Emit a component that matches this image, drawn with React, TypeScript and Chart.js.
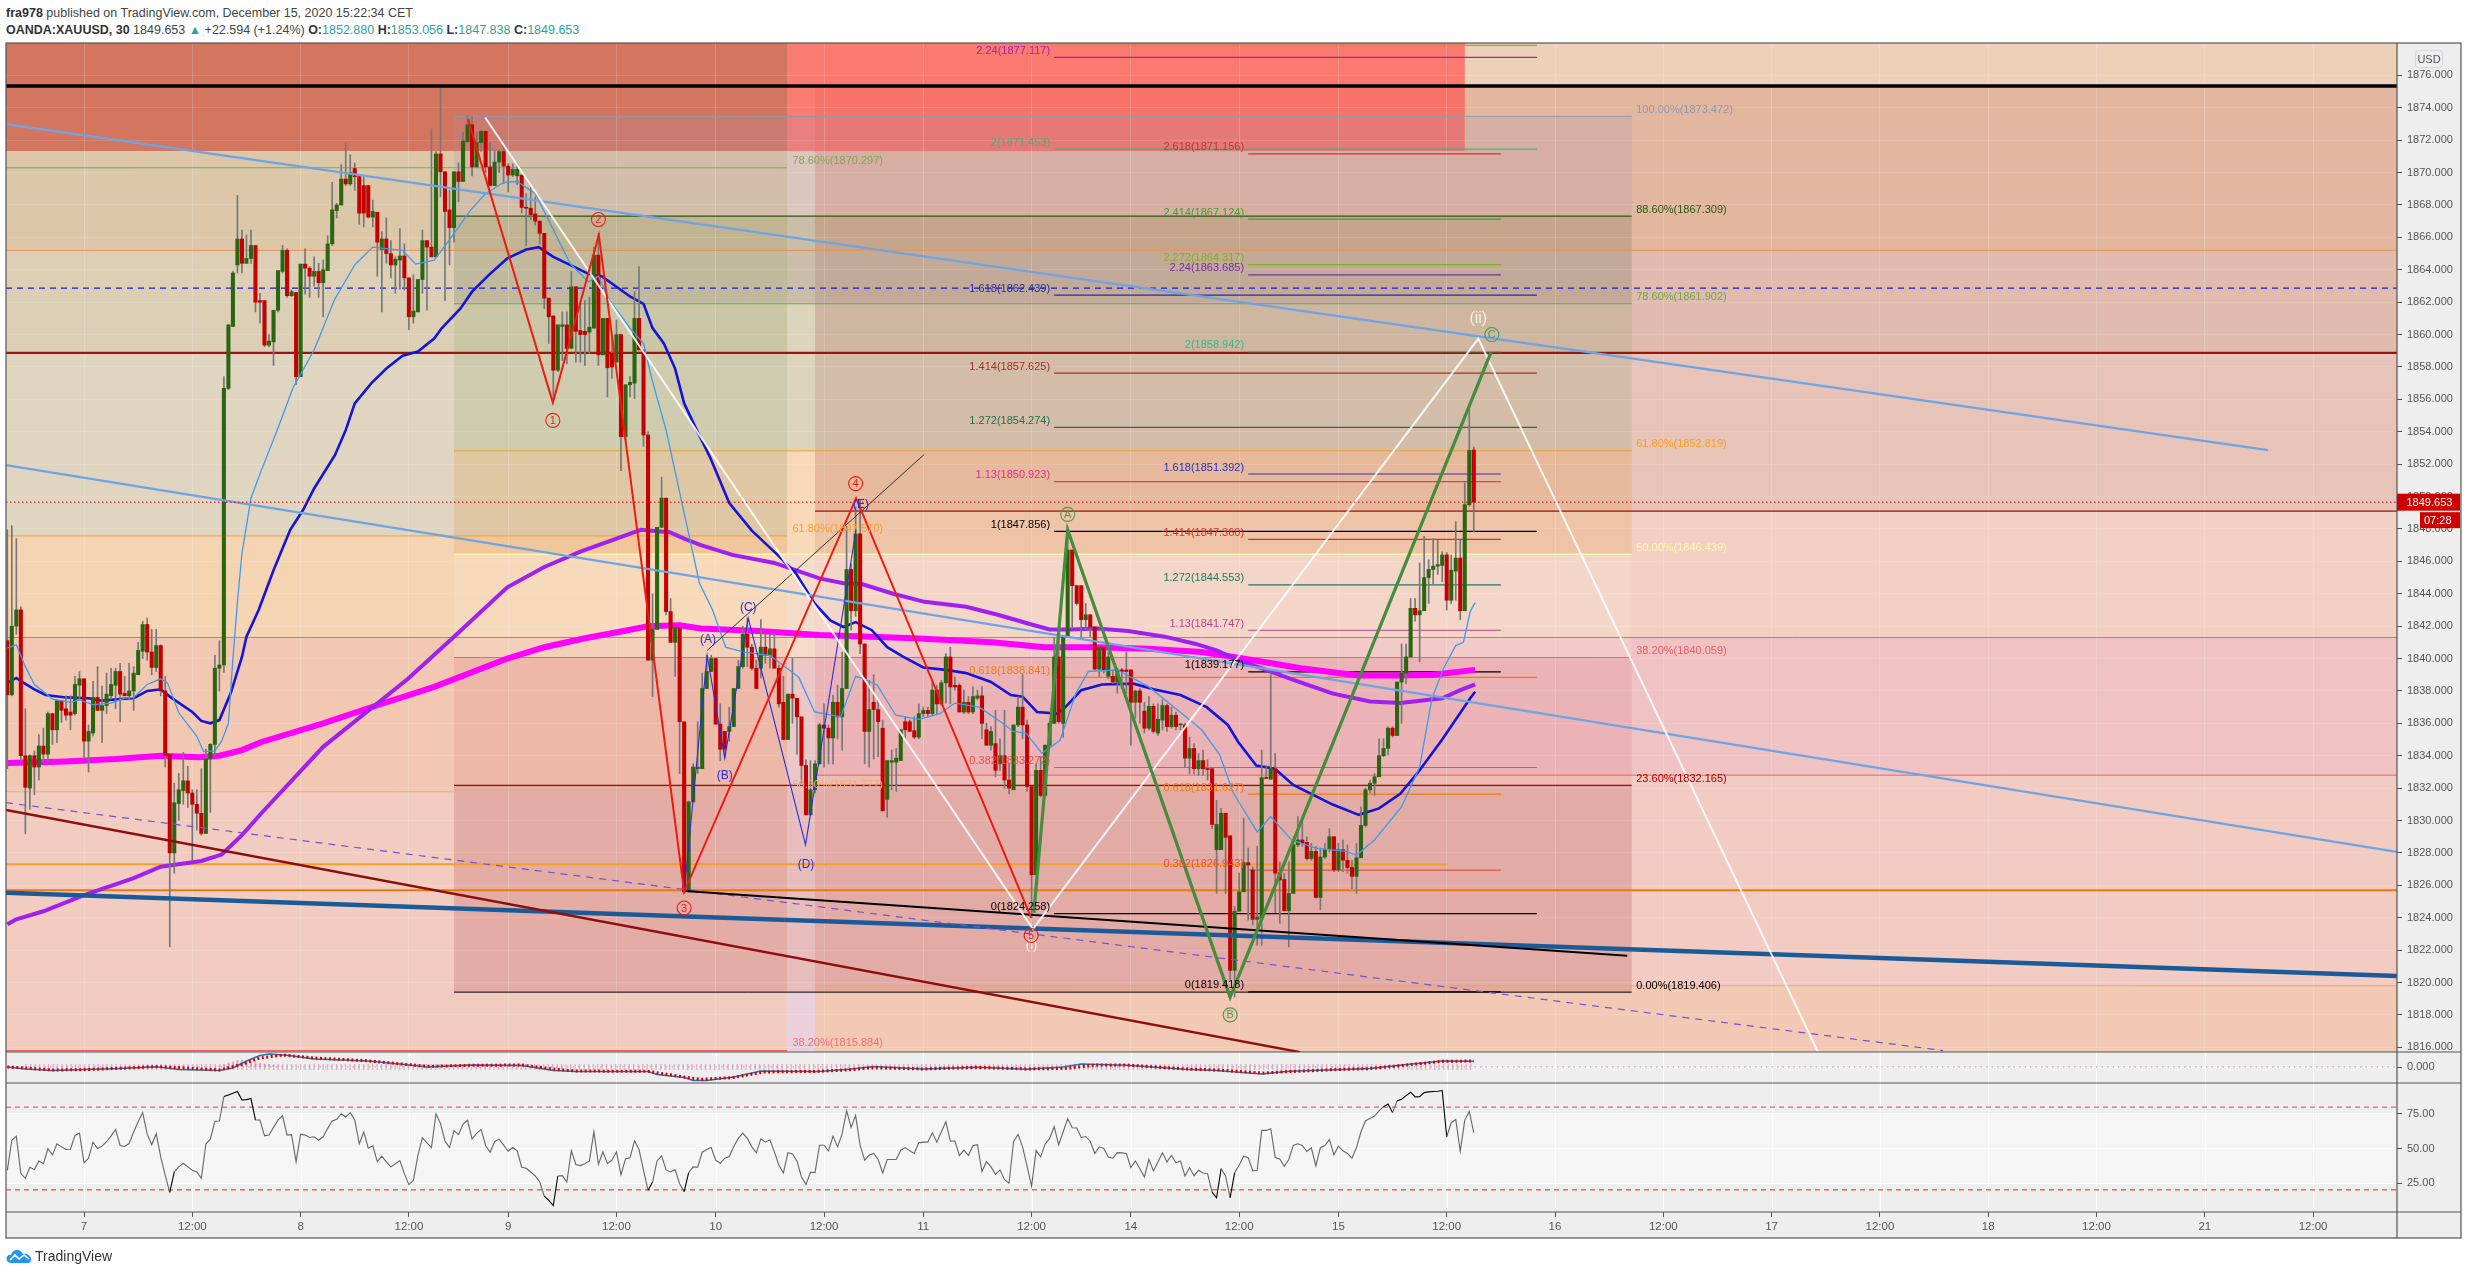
import { useEffect, useRef } from "react";
import { Chart, registerables } from "chart.js";
Chart.register(...registerables);

type Row = [number, number, number, number];
type Pt = [number, number];

// ---- candles [open, high, low, close], one small list per session
const sessionDec04: Row[] = [
[1841.1,1847.95,1833.2,1837.76],[1837.76,1848.2,1837.7,1842],[1842,1847.4,1841.5,1843],[1843,1843.2,1833.7,1834],[1834,1836.9,1829.2,1832.05],[1832,1834.05,1830.7,1834],[1834,1834.3,1831.6,1833.3],[1833.3,1835.3,1832.5,1834.6],[1834.6,1835.7,1833.6,1834.1],[1834.1,1836.7,1833.6,1836.6],[1836.6,1836.6,1834.7,1835.6],[1835.6,1837.45,1834.8,1837.4],[1837.4,1837.4,1836.05,1836.8],[1836.9,1837.7,1836.2,1836.5],[1836.7,1837.7,1835.6,1836.5],[1836.6,1838.9,1836.5,1838.4],[1838.35,1839.2,1837.5,1838.75],
];
const sessionDec07: Row[] = [
[1838.75,1838.75,1833.8,1834.9],[1834.9,1835.9,1833,1835.5],[1835.4,1838.6,1835.2,1837.6],[1837.6,1839.5,1836.8,1836.8],[1836.8,1838.3,1834.8,1837.1],[1837.1,1839.1,1836.6,1837.8],[1837.7,1839.4,1837.5,1838.4],[1838.35,1839.4,1836.9,1839.2],[1839.2,1839.7,1836.1,1837.8],[1837.85,1838.9,1837.7,1837.7],[1837.7,1839.7,1837.45,1838],[1838,1839.5,1836.8,1839.1],[1839,1841,1839,1840.5],[1840.45,1842.3,1840,1842.1],[1842.1,1842.5,1839.9,1840.4],[1840.4,1841.8,1839,1839.45],[1839.45,1841.8,1839.2,1840.8],[1840.8,1840.85,1837.7,1838],[1838,1838.9,1833.3,1834],[1834.06,1834.06,1822.2,1828],[1828,1832.3,1826.75,1831.1],[1831.05,1832.9,1830,1831.9],[1831.85,1834.2,1831,1832.45],[1832.45,1833.35,1830.8,1831.7],[1831.7,1831.9,1827.55,1831],[1831,1831.9,1829.4,1830.45],[1830.45,1833.2,1829.1,1829.2],[1829.2,1834.4,1829.2,1833.8],[1833.8,1834.75,1830.5,1834.7],[1834.7,1840.2,1834.05,1839.4],[1839.4,1841.1,1838,1839.6],[1839.6,1857.4,1839.15,1856.68],[1856.68,1860.6,1856.6,1860.6],[1860.5,1863.9,1860.5,1863.8],[1864.3,1868.6,1863.8,1865.9],[1865.9,1866.45,1863.8,1864.4],[1864.4,1866.15,1864.4,1864.7],[1864.7,1866.45,1864.4,1865.5],[1865.5,1865.5,1861.4,1862],[1862.1,1862.55,1860.7,1862],[1862.1,1862.1,1859.25,1859.35],[1859.35,1860,1859.25,1859.6],[1859.55,1861.5,1858.1,1861.5],[1861.5,1863.95,1861.4,1863.95],[1863.9,1865.5,1863.8,1865.2],[1865.2,1865.3,1862.3,1862.4],[1862.4,1862.75,1862.35,1862.65],[1862.6,1862.6,1856.9,1857.4],
];
const sessionDec08: Row[] = [
[1857.4,1864.35,1857.4,1864.35],[1864.35,1865.3,1862.5,1864.1],[1864.1,1864.2,1862.3,1863.6],[1863.6,1864.8,1863,1863.9],[1863.9,1864.4,1862.3,1863.2],[1863.2,1864.6,1861.1,1864],[1863.95,1866.1,1863.95,1865.6],[1865.6,1869.4,1865.5,1867.7],[1867.65,1868.1,1867.2,1868],[1868,1870.5,1868,1869.6],[1869.6,1871.8,1869.2,1869.3],[1869.3,1871.1,1869.2,1870],[1870.25,1870.6,1868.9,1869.75],[1869.75,1869.85,1866.8,1867.5],[1869.2,1869.75,1866.65,1867.5],[1869.2,1869.2,1867.2,1867.25],[1867.25,1868.3,1866.65,1867.6],[1867.55,1867.55,1863.6,1865.7],[1865.25,1866.35,1861.4,1865.9],[1865.9,1867.2,1864.4,1865],[1865,1865.8,1863.5,1864.3],[1864.3,1864.8,1862.55,1864.65],[1864.6,1866.55,1862.8,1864.85],[1864.85,1865.6,1862.75,1863.5],[1863.5,1863.5,1860.3,1861.1],[1861.1,1863.7,1860.7,1861.45],[1861.4,1863.4,1861.4,1863.4],[1863.4,1866.45,1862.55,1865.8],[1865.8,1865.8,1861.5,1865.4],[1865.4,1872.7,1864.8,1864.8],[1864.8,1871.3,1864.8,1871.15],[1871.15,1875.35,1868.5,1870.05],[1870.05,1870.05,1862.1,1867.6],[1867.7,1868.9,1864.3,1866.6],[1866.6,1870.05,1865.7,1870.05],[1870.05,1870.6,1868.2,1869.45],[1869.45,1872.5,1869.45,1871.95],[1871.9,1873.55,1871.9,1872.95],[1872.95,1873.45,1869.8,1870.35],[1870.35,1872.5,1870.35,1871.85],[1871.85,1872.6,1871.3,1872.55],[1872.55,1872.55,1870,1870.35],[1870.35,1871.8,1869.2,1869.2],[1869.2,1871.4,1869.2,1870.65],[1870.65,1871.4,1870,1871.3],[1871.3,1871.7,1869.3,1870.4],
];
const sessionDec09: Row[] = [
[1870.4,1870.55,1868.8,1869.85],[1869.85,1870.55,1869.75,1870.2],[1869.8,1870.55,1869.25,1870.2],[1869.85,1869.85,1867.5,1867.85],[1867.85,1868.7,1865.5,1867.8],[1867.8,1869.1,1867.1,1867.4],[1867.45,1868.5,1866.75,1867],[1867,1867,1865.6,1866.25],[1866.25,1866.25,1861.6,1862.25],[1862.25,1862.25,1859.45,1861.1],[1861.15,1861.15,1856.05,1857.8],[1857.8,1860.6,1857.7,1860.6],[1860.5,1861.4,1858.4,1860.6],[1860.6,1861.4,1858.2,1859.15],[1859.15,1863.9,1859.15,1862.95],[1862.95,1862.95,1858.3,1860.2],[1860.25,1861.9,1858.3,1860],[1860.2,1862.1,1858.1,1860],[1860.15,1862.3,1858.85,1860.45],[1860.4,1865.4,1860.4,1864.9],[1864.9,1866.25,1858.1,1858.75],[1858.75,1861,1858.75,1861],[1861,1861,1856.15,1857.95],[1858.85,1860,1857.3,1858],[1858.3,1860.9,1858.3,1860],[1860,1860,1851.6,1853.7],[1853.7,1856.9,1853.5,1856.9],[1856.9,1857.4,1856.15,1857.05],[1857,1862.65,1856.05,1861],[1861,1864.2,1859.05,1859.05],[1859.05,1859.05,1853.1,1853.8],[1853.8,1854,1839.9,1839.9],[1839.9,1844,1837.65,1841.8],[1841.8,1848.1,1841.8,1848.1],[1848.1,1851.2,1848.1,1849.9],[1849.9,1849.9,1842.7,1842.9],
];
const sessionDec09b: Row[] = [
[1842.9,1843.7,1841,1841],[1841,1841.9,1838.9,1841.9],[1841.9,1841.9,1832.9,1836.1],[1836.1,1836.1,1825.5,1825.6],[1825.6,1831.2,1825.6,1831.15],[1831.15,1833.5,1831.15,1833.3],[1833.2,1836.1,1832.9,1833.3],[1833.2,1839.1,1833.2,1838.15],[1838.15,1840.2,1838.15,1839.2],[1839.2,1840.2,1839.2,1840],
];
const sessionDec10: Row[] = [
[1840,1840,1835.95,1835.95],[1835.95,1837.2,1833.7,1834.4],[1835.5,1835.5,1833.9,1834.4],[1835.5,1837,1834.9,1835.8],[1835.8,1838.15,1835.8,1838.15],[1838.15,1839.9,1838.15,1839.5],[1839.5,1842,1839.4,1841.5],[1841.5,1842.5,1839.5,1840.7],[1840.7,1840.9,1839.3,1839.4],[1839.4,1839.9,1838.15,1838.15],[1839.4,1842.4,1838.8,1840.7],[1840.7,1841.5,1839.7,1840.2],[1840.2,1841.5,1839.4,1840.6],[1840.6,1841.55,1839.4,1839.4],[1839.4,1839.6,1837,1837.2],[1837.3,1838.9,1835,1835],[1835,1837.8,1835,1837.8],[1837.8,1840,1836,1837.55],[1837.55,1837.55,1834.1,1836.4],[1836.4,1836.4,1832.3,1833.4],[1833.4,1833.75,1830.35,1830.35],[1830.35,1833.7,1830.35,1831.9],[1831.9,1833.7,1831.7,1833.5],[1833.5,1836,1833.5,1835.9],[1835.9,1837.2,1833.3,1835.7],[1835.7,1835.9,1833.5,1835.1],[1835.1,1837.75,1833.5,1837.3],[1837.3,1838.35,1835.05,1836.4],[1836.4,1840.4,1834.35,1838.15],[1838.15,1848.15,1838.15,1845.5],[1845.5,1845.85,1841.75,1842.95],[1842.95,1849.35,1842.6,1847.7],[1847.7,1849.8,1840.3,1840.9],[1840.9,1840.9,1833.5,1835.5],[1835.5,1838.65,1833.3,1836.85],[1837.3,1839,1833.8,1836.85],[1836.85,1837.45,1833.95,1836.1],[1835.7,1836.2,1830.6,1830.6],[1831.3,1833.7,1830.2,1833.7],[1833.6,1834.35,1831.9,1833.7],[1833.6,1834.45,1831.8,1833.85],[1833.7,1835.6,1833.7,1835.6],[1836.1,1836.4,1835.05,1835.6],[1836.1,1836.2,1835.5,1835.5],[1835.55,1836.4,1835.05,1835.15],[1835.15,1837.2,1835.05,1836.6],
];
const sessionDec11: Row[] = [
[1836.6,1837,1836.4,1836.8],[1836.8,1837,1836.4,1836.6],[1836.6,1838.55,1836.5,1838.05],[1838.05,1838.35,1836.6,1837.2],[1837.2,1838.65,1837.1,1838.5],[1838.5,1840.3,1837.25,1840.1],[1840.1,1840.7,1837.2,1838.25],[1838.35,1838.85,1838.05,1838.25],[1838.35,1838.45,1836.7,1836.7],[1836.7,1838.05,1836.6,1837.3],[1837.3,1837.65,1836.6,1836.7],[1836.7,1838.25,1836.6,1837.65],[1837.55,1838.05,1837.45,1837.7],[1837.7,1838.25,1835.05,1836],[1835.6,1836,1834.65,1834.65],[1834.65,1835.8,1834.35,1835.5],[1834.75,1836.8,1832.7,1833.1],[1833.5,1835.05,1833.1,1834],[1834,1836.8,1832,1832.5],[1832.5,1833.5,1831.65,1832],[1831.9,1835.9,1831.9,1835.9],[1835.9,1837.65,1835.8,1837],[1837,1839,1835.05,1835.9],[1835.9,1836.2,1831.8,1832.1],[1832.1,1832.1,1824,1826.65],[1826.65,1833.5,1826.65,1833.1],[1833.1,1833.95,1831.45,1831.55],[1831.55,1834.65,1831.45,1834.65],[1834.65,1836.1,1834.55,1836],[1836,1841.3,1836,1840.1],[1840.1,1841.3,1836,1836.1],[1836,1841.35,1835.15,1841.35],[1841.35,1847.9,1841.35,1846.7],[1846.7,1846.7,1841.85,1844.5],[1844.5,1844.5,1843.3,1843.4],[1844.5,1844.5,1841.25,1842.4],[1842.4,1843.4,1841.75,1842.7],[1842.7,1842.7,1841.35,1841.95],[1841.95,1841.95,1839.3,1839.35],[1839.35,1840.7,1838.9,1840.7],[1840.7,1840.7,1839.1,1839.3],[1838.9,1840.4,1838.75,1840.1],[1838.9,1839.3,1838.45,1838.55],[1838.55,1839.4,1837.85,1839.3],[1839.3,1839.4,1838.45,1839.2],[1839.3,1840.4,1837.85,1839.2],
];
const sessionDec14: Row[] = [
[1839.3,1839.3,1834.65,1837.3],[1837.3,1838.05,1836.3,1838],[1838,1838.15,1836,1837.3],[1836.75,1837.3,1835.4,1835.7],[1835.7,1837.65,1835.6,1837.05],[1837.05,1837.2,1835.4,1835.5],[1835.4,1837.2,1835.25,1836.25],[1836.2,1837.45,1835.6,1837.1],[1837.1,1837.2,1835.5,1835.8],[1835.8,1837,1835.7,1836.5],[1836.5,1836.7,1835.6,1835.8],[1835.9,1836,1835.6,1835.95],[1835.9,1836,1833.3,1833.85],[1833.85,1835.15,1832.9,1834.45],[1834.45,1834.75,1832.9,1833.2],[1833.2,1834.15,1832.8,1833.7],[1833.7,1834.35,1832.8,1833.2],[1833.2,1833.75,1832.5,1833.15],[1833.2,1833.2,1829.5,1829.76],[1828.2,1831.25,1825.5,1829.76],[1828.2,1830.75,1828.2,1830.45],[1830.45,1830.45,1825.5,1828.96],[1829.05,1829.05,1820.15,1820.75],[1820.75,1824.7,1819.1,1824.4],[1824.4,1826.75,1824.4,1825.6],[1825.6,1830.15,1825.6,1827.4],[1827.4,1828.3,1823.85,1827.25],[1826.95,1827.15,1823.55,1823.9],[1823.9,1828.4,1822.3,1824.05],[1823.95,1834.35,1822.3,1832.65],[1832.65,1833.4,1832.6,1832.6],[1832.55,1839.1,1832.55,1833.2],[1833.2,1834.15,1824.3,1826.75],[1826.78,1827.45,1823.65,1826.33],[1826.36,1826.75,1824.43,1824.43],[1824.43,1827.45,1822.2,1825.5],
];
const sessionDec14b: Row[] = [
[1825.5,1828.8,1825.5,1828.5],[1828.5,1830.25,1828.4,1828.8],[1828.8,1830,1828.4,1828.6],[1828.65,1829,1827.55,1827.65],[1827.65,1828.6,1827.55,1828.1],[1828.1,1828.4,1825.2,1825.25],[1825.25,1828.3,1824.5,1827.75],[1827.75,1828.6,1827.65,1828.2],[1828.2,1829.5,1828.05,1829],[1829,1829,1826.85,1826.95],
];
const sessionDec15: Row[] = [
[1826.95,1828.6,1826.85,1828.2],[1828.2,1828.8,1826.85,1827.55],[1827.55,1828.5,1826.75,1827.1],[1827.1,1827.55,1825.8,1826.55],[1826.55,1828.6,1825.5,1827.7],[1827.7,1830.85,1827.7,1829.7],[1829.7,1832,1829.6,1831.9],[1831.9,1832.5,1831.7,1832.3],[1832.3,1832.9,1831.55,1832.7],[1832.7,1835.05,1832.7,1834],[1834,1835.05,1833.95,1834.45],[1834.45,1835.8,1834.05,1835.7],[1835.7,1835.8,1835.15,1835.25],[1835.25,1838.55,1835.25,1838.55],[1838.55,1840.9,1836,1839.1],[1839.1,1840.9,1838.45,1840.1],[1840.1,1843.7,1840.1,1843.1],[1843.1,1843.7,1842.3,1842.7],[1842.7,1845.9,1839.8,1842.95],[1842.95,1847.55,1842.95,1845],[1845,1846.1,1843.4,1845.5],[1845.5,1847.4,1844.6,1845.7],[1845.7,1847.3,1845.2,1845.8],[1845.75,1846.6,1844.75,1846.4],[1846.4,1846.55,1843,1843.6],[1843.6,1846.4,1843.4,1845.45],[1845.4,1848.45,1843.6,1846.2],[1846.2,1847.3,1842.4,1842.95],[1842.95,1850.85,1842.95,1849.5],[1849.5,1855.4,1849.4,1852.85],[1852.88,1853.056,1847.838,1849.653],
];
const candleRows = [...sessionDec04, ...sessionDec07, ...sessionDec08, ...sessionDec09, ...sessionDec09b, ...sessionDec10, ...sessionDec11, ...sessionDec14, ...sessionDec14b, ...sessionDec15];

// ---- moving averages [bar, price]
const emaFast: Pt[] = [[0,1840.65],[2,1840.85],[4,1839.5],[6,1838.4],[8.5,1837.85],[10,1837.5],[14,1837.3],[16,1837.45],[19,1837.15],[23,1837.25],[26,1837.55],[28,1837.6],[31,1838.4],[34,1838.75],[35.5,1838.5],[38,1836.65],[42,1835.2],[43.5,1834.25],[46,1834.3],[47.5,1834.9],[49,1836],[50,1840],[51,1843.5],[52,1846.5],[54,1849.9],[56,1851.4],[59.8,1854.1],[63.3,1856.7],[68,1859.05],[72.5,1862.15],[77,1864.3],[81,1865.4],[87.6,1865.2],[90.5,1864.35],[94.6,1864.6],[98,1865.85],[102.7,1867.7],[106,1868.7],[110,1869.4],[113,1869.45],[117,1868.7],[120.7,1866.65],[124.7,1864.4],[128.8,1863.25],[131,1863.6],[133.4,1862.15],[138,1860.4],[141,1859.45],[142.7,1857.4],[146,1854.1],[150.5,1848.35],[153.4,1844.65],[156.3,1843],[159.2,1840.7],[163.2,1840.4],[169,1840.2],[175.4,1838.85],[178.9,1836.7],[184.7,1836.4],[188,1838.9],[189.9,1838.75],[192.8,1838.35],[196.9,1836.5],[202,1836.25],[206.7,1836.6],[210,1837.25],[215.4,1837],[220.6,1836],[222.9,1835.5],[225.8,1835.4],[229.3,1834.15],[233.3,1834.95],[236.8,1837.85],[239.6,1839.2],[246,1839.3],[253,1838.25],[259,1836.9],[264.7,1835.6],[268.7,1834.05],[271.7,1831.7],[277,1829.3],[280,1830.25],[284.6,1828.8],[290,1828.3],[296.7,1828.1],[299,1827.85],[303,1828.8],[309,1830.85],[313,1833.3],[315.7,1837.5],[318.3,1839.4],[321,1840.8],[322.7,1841],[324.2,1842.9],[325.3,1843.45]];
const emaMid: Pt[] = [[0,1838.5],[2,1838.8],[3,1838.6],[6,1838.1],[8.5,1837.75],[13,1837.6],[18,1837.55],[21,1837.4],[25,1837.5],[28,1837.55],[31,1838],[34,1838.1],[36,1837.65],[41,1836.7],[43,1836.15],[45,1836],[47,1836.2],[49.5,1837.85],[52,1840.1],[53,1841.35],[55.7,1843],[59,1845.45],[62.7,1847.95],[65.6,1849.2],[68,1850.5],[72.6,1852.55],[75,1854.1],[77,1855.75],[80.7,1857],[84,1857.9],[87.6,1858.7],[91,1858.95],[94.6,1859.75],[96.3,1860.4],[100.4,1861.6],[103,1862.65],[106.8,1863.7],[110.8,1864.7],[115,1865.25],[117.8,1865.4],[121,1864.8],[124.7,1864.3],[128.8,1863.75],[131.7,1863.6],[135,1862.95],[138,1862.35],[141,1861.9],[143,1860.4],[145.5,1859.45],[148,1857.9],[150,1855.75],[152.8,1854.1],[155.7,1852.45],[160,1849.6],[165,1847.9],[170.7,1846.4],[174.8,1845.25],[178.9,1843.4],[182.4,1842.35],[185.3,1841.95],[188,1842.25],[191.6,1841.75],[195,1840.7],[198.6,1840.1],[203,1839.45],[208,1839.3],[212.5,1839.1],[218,1838.55],[222.4,1837.75],[225,1837.65],[228.2,1836.7],[232.8,1836.6],[234.5,1837],[238,1838.05],[242.6,1838.4],[249.6,1838.45],[254,1838.1],[260,1837.75],[265.8,1837],[270.5,1835.9],[272.8,1834.85],[276.8,1833.4],[280.9,1833.2],[285,1832.2],[293.6,1831],[299.5,1830.35],[304,1830.75],[308.7,1831.65],[313,1833.1],[318,1835],[324.2,1837.55],[325.3,1837.95]];
const emaSlow: Pt[] = [[0,1823.6],[2,1823.9],[8,1824.4],[17,1825.4],[28,1826.45],[34,1827.15],[43,1827.5],[47.5,1827.9],[52,1829.1],[56.3,1830.45],[70,1834.55],[88.8,1838.75],[99,1841.35],[110.8,1844.4],[119,1845.65],[127,1846.6],[135,1847.4],[140.4,1847.95],[146.8,1847.8],[150,1847.4],[153.7,1847],[160.7,1846.4],[170,1845.9],[180,1844.95],[185.3,1844.65],[189.4,1844.6],[196.3,1844],[203.3,1843.5],[212.5,1843.2],[219.5,1842.7],[226.4,1842.15],[231,1841.8],[235.7,1841.8],[241.5,1841.85],[248.4,1841.7],[256.5,1841.35],[263.4,1840.9],[268,1840.5],[272.7,1839.9],[277.4,1839.45],[284.4,1838.75],[293.6,1837.85],[302,1837.35],[308.7,1837.25],[318,1837.55],[322,1838.05],[325.3,1838.4]];
const emaLong: Pt[] = [[0,1833.55],[13,1833.65],[24,1833.8],[34,1834],[42.5,1833.9],[47,1834],[52,1834.35],[56.3,1834.85],[70,1836],[81.8,1837.1],[94.6,1838.25],[110.8,1840],[119,1840.7],[128,1841.25],[137.5,1841.75],[142,1842],[149,1842.05],[153.7,1841.85],[166.5,1841.7],[180,1841.45],[201,1841.25],[218.3,1841],[229.9,1840.7],[241.5,1840.7],[253,1840.6],[264.7,1840.4],[273.9,1840],[286.7,1839.4],[299.5,1838.95],[308.7,1838.95],[316,1839],[325.3,1839.3]];

// ---- RSI, one value per bar
const rsiValues = [34.2,56,59,31.8,28.4,36.4,34.7,41,39,49.8,45.4,53.4,51.2,49.3,49.5,59.5,61.2,39.6,43,54.6,50,51.7,54.9,59.2,63.8,52.2,51.5,53.6,62,69.4,76,60.4,52.7,60.7,43.9,30.6,18.2,33,36.7,39.3,36.7,34.2,33,28.4,53.2,56.8,69.7,69.9,87.6,88.8,90,91.3,85.2,85.4,86.2,70.6,70.6,59.2,59.7,65.3,70.6,73.8,59.7,60,40.3,60.4,59.7,58,58.5,56,58.5,64.6,69.9,71.1,75.2,72.8,76,70.6,53.4,62,50.2,52,40.5,44.4,40.3,36.7,39,41.3,31.8,23.8,26.9,45.1,57.8,54,50.7,75,68.2,55.3,50.7,62.9,60,67.7,70.4,56.8,60.9,63.8,52.2,47.3,54.9,56.8,52.4,48,50.7,48.3,36.4,35.7,33,30.1,25.7,15.5,12.4,8.7,30.1,30.3,25.7,48.5,38.4,37.6,39,41,62.1,38.6,47.6,39,41.5,47.6,31,42.5,43.2,55.6,49.3,34.2,19.7,25.7,41,44.7,34.5,33,34.7,24.5,18.7,32.5,36.7,36.4,47.3,49.3,50.7,41.5,39.3,43,44.2,51.5,57.3,61.2,57.3,51.2,46.8,57,54.6,56.3,47.6,37.9,32.3,47,46,41,29.4,24,32.8,32.5,52.4,52.4,48.3,59,51.2,60.4,77.4,65.3,74,52.2,41.5,45.1,46.4,42,32.3,42,42,42,48.8,50.7,48.3,46.4,54.1,54.6,54.6,61.4,54.6,62.1,69.4,55.3,55.6,44.9,48.8,44.9,52,52.7,33.3,40.5,36.7,31.3,34.5,27.4,24.8,54.9,60.2,51.2,37.1,22.8,48.5,43.9,53.2,57.3,65.8,52.7,62.1,71.6,65,64.8,58,58.7,55.3,46.4,51.2,50,43.9,43,47,46.8,46.4,36.2,41,35.4,29.4,42.2,33.7,40.3,47,40.3,44.9,39.6,41,30,36.2,30.3,34.2,32.3,31.8,18.4,14.3,35.4,29.9,14.3,32.5,37.9,44.4,43.4,34,34.2,63.1,63.1,64.3,43.4,42.5,37.1,42,52.2,53.4,52.2,47.8,50.5,37.4,50.7,52.2,56.6,45.4,51.7,48.3,46.4,43,50.7,62.1,70.1,71.8,73.5,77.2,80.3,82.3,76,84.5,85.7,88.3,90.8,87.4,87.6,90.5,91,91.3,91.5,92,58.5,68.7,71.1,48,70.6,76.9,61.4];
const rsiBands = [80, 20];

// ---- MACD pane
const macdSignal: Pt[] = [[0,0],[4,-0.2],[10,-0.6],[17,-0.53],[25,-0.27],[33,0.07],[38,-0.13],[47,-0.6],[52,0.53],[56,1.8],[61,2.4],[68,1.8],[79.5,1.27],[86.5,0.67],[93.4,0.13],[102.7,0.33],[114,0.4],[121,-0.4],[126,-0.8],[142,-0.87],[150,-2],[153.7,-2.47],[160.7,-2.13],[167.6,-1],[180,-0.87],[187,-0.53],[191.6,-0.13],[203,-0.4],[214.6,-0.07],[226,-0.4],[234.4,-0.27],[241.4,0.4],[248,0.4],[261,-0.4],[268,-0.6],[278.3,-1.2],[284,-0.93],[295.7,-0.47],[301.5,-0.33],[307.3,0.13],[317.7,1.13],[325,1.2]];
const macdLine: Pt[] = [[0,0],[4,-0.4],[10,-0.7],[17,-0.5],[25,-0.3],[33,0.05],[38,-0.5],[47,-0.7],[50,-0.2],[53,1.2],[56,2.3],[58,2.6],[62,2.35],[68,1.6],[80,1.2],[87,0.6],[93,0],[103,0.4],[114,0.3],[121,-0.7],[126,-0.9],[142,-0.9],[144,-1.5],[150,-2.1],[152,-2.7],[155,-2.7],[161,-2],[167,-0.8],[180,-0.9],[187,-0.4],[192,0.1],[203,-0.4],[215,-0.05],[226,-0.45],[234,0],[238,0.6],[248,0.35],[261,-0.45],[268,-0.7],[278,-1.4],[284,-0.85],[296,-0.5],[302,-0.3],[308,0.3],[318,1.2],[325,1.15]];
const macdHumpBars = [47, 48, 49, 50, 51, 52, 53, 54, 55, 56, 57, 58, 59, 60];
const macdHumpValues = [0.2, 0.5, 0.8, 1, 1.3, 1.4, 1.3, 1.1, 0.9, 0.8, 0.6, 0.5, 0.3, 0.2];
const macdHistStart = 4;
const macdHistEnd = 325;

// ---- axes
const priceTicks = [1816,1818,1820,1822,1824,1826,1828,1830,1832,1834,1836,1838,1840,1842,1844,1846,1848,1850,1852,1854,1856,1858,1860,1862,1864,1866,1868,1870,1872,1874,1876];
const timeTickBars = [17,41,65,89,111,135,157,181,203,227,249,273,295,319,343,367,391,415,439,463,487,511];
const timeTickLabels = ["7","12:00","8","12:00","9","12:00","10","12:00","11","12:00","14","12:00","15","12:00","16","12:00","17","12:00","18","12:00","21","12:00"];
const rsiTicks = [25, 50, 75];
const macdTicks = [0];
const xMin = -0.29, xMax = 529.6;
const yMin = 1815.71, yMax = 1878;

// ---- coloured zones [barFrom, barTo, priceTop, priceBottom, colour]
type Zone = [number, number, number, number, string];
const rightZones: Zone[] = [
[179,xMax,yMax,1875.35,"#EDD0B8"],[179,xMax,1875.35,1865.2,"#E3B6A0"],[179,xMax,1865.2,1858.87,"#E0BBAE"],[179,xMax,1858.87,1849.1,"#E8C3B8"],[179,xMax,1849.1,1841.3,"#F2D0C3"],[179,xMax,1841.3,1832.8,"#EFC2C4"],[179,xMax,1832.8,1819.8,"#F2CBC2"],[179,xMax,1819.8,yMin,"#F2C9B5"],
];
const gapZones: Zone[] = [
[172.8,179,yMax,1861.902,"#E9D5C4"],[172.8,179,1861.902,1852.819,"#F2E1D1"],[172.8,179,1852.819,1846.439,"#FDEADA"],[172.8,179,1846.439,1840.059,"#F2D8C3"],[172.8,179,1840.059,1832.165,"#EEDCDA"],[172.8,179,1832.165,1819.406,"#F7E2E0"],[172.8,179,1819.406,yMin,"#EAD0DC"],
];
const leftZones: Zone[] = [
[xMin,172.8,yMax,1871.33,"#D47560"],[xMin,172.8,1871.33,1865.2,"#DCC8A8"],[xMin,172.8,1865.2,1858.87,"#DDCFB6"],[xMin,172.8,1858.87,1847.57,"#E0D5C0"],[xMin,172.8,1847.57,1841.3,"#F5D4B4"],[xMin,172.8,1841.3,1831.78,"#F2C8B3"],[xMin,172.8,1831.78,yMin,"#F2CCC0"],
];
const redZones: Zone[] = [[172.8,323,yMax,1871.33,"rgba(255,86,81,0.7)"]];
const fibZones: Zone[] = [
[99,360,1873.472,1867.309,"rgba(167,147,170,0.2)"],[99,360,1867.309,1861.902,"rgba(82,102,60,0.2)"],[99,360,1861.902,1852.819,"rgba(137,165,104,0.2)"],[99,360,1852.819,1846.439,"rgba(227,143,50,0.2)"],[99,360,1846.439,1840.059,"rgba(255,240,220,0.2)"],[99,360,1840.059,1832.165,"rgba(219,119,126,0.2)"],[99,360,1832.165,1819.406,"rgba(170,45,55,0.2)"],
];
const zones = [...rightZones, ...gapZones, ...leftZones, ...redZones, ...fibZones];

// ---- level lines [price, barFrom, barTo, colour, width, dash]
type Level = [number, number, number, string, number, number[]];
const fullLevels: Level[] = [
[1875.35,xMin,xMax,"#000000",3.5,[]],[1865.2,xMin,xMax,"#E89050",1,[]],[1862.87,xMin,xMax,"#1A1AE0",1.2,[6,5]],[1858.87,xMin,xMax,"#9B1410",2.2,[]],[1849.653,xMin,xMax,"#D00000",1,[1.5,2.5]],[1849.1,179,xMax,"#A01010",1.2,[]],[1841.3,xMin,xMax,"#EE6A5C",1,[]],[1832.8,179,xMax,"#E86060",1,[]],[1827.3,xMin,319,"#F5A020",2,[]],[1825.7,xMin,xMax,"#E87A10",2,[]],[1819.8,179,xMax,"#F0A060",1,[]],
];
const leftFibLevels: Level[] = [
[1870.297,xMin,172.8,"#7FA860",1,[]],[1847.57,xMin,172.8,"#F5A030",1,[]],[1831.777,xMin,172.8,"#F0B070",1,[]],[1815.8,xMin,172.8,"#E86060",1.2,[]],
];
const midFibRows: [string, number, string, number][] = [
["100.00%(1873.472)",1873.472,"#8E9AA8",1],["88.60%(1867.309)",1867.309,"#2A5A10",1.2],["78.60%(1861.902)",1861.902,"#6AA84F",1],["61.80%(1852.819)",1852.819,"#F5A020",1],["50.00%(1846.439)",1846.439,"#FFF4B0",1.5],["38.20%(1840.059)",1840.059,"#E86060",1],["23.60%(1832.165)",1832.165,"#B00000",1.3],["0.00%(1819.406)",1819.406,"#000000",1],
];
const extOneRows: [string, number, string, number][] = [
["2.24(1877.117)",1877.117,"#9C27B0",339],["2(1871.453)",1871.453,"#3CB47C",339],["1.618(1862.439)",1862.439,"#2030A0",339],["1.414(1857.625)",1857.625,"#A83020",339],["1.272(1854.274)",1854.274,"#207050",339],["1.13(1850.923)",1850.923,"#E0308C",331],["1(1847.856)",1847.856,"#000000",339],["0.618(1838.841)",1838.841,"#F57C00",339],["0.382(1833.272)",1833.272,"#EE5040",339],["0(1824.258)",1824.258,"#000000",339],
];
const extTwoRows: [string, number, string][] = [
["2.618(1871.156)",1871.156,"#D03040"],["2.414(1867.124)",1867.124,"#40A030"],["2.272(1864.317)",1864.317,"#80B020"],["2.24(1863.685)",1863.685,"#7030A0"],["2(1858.942)",1858.942,"#30C080"],["1.618(1851.392)",1851.392,"#3030B0"],["1.414(1847.360)",1847.36,"#E03020"],["1.272(1844.553)",1844.553,"#207A60"],["1.13(1841.747)",1841.747,"#C04090"],["1(1839.177)",1839.177,"#000000"],["0.618(1831.627)",1831.627,"#F57C00"],["0.382(1826.943)",1826.943,"#EE5040"],["0(1819.418)",1819.418,"#000000"],
];
const leftFibLabels: [string, number, string][] = [
["78.60%(1870.297)",1870.297,"#7FA860"],["61.80%(1847.570)",1847.57,"#F5A030"],["50.00%(1831.777)",1831.777,"#F0B070"],["38.20%(1815.884)",1815.884,"#F07070"],
];
const olivePrice = 1877.85;

// ---- trend lines and wave counts [bar, price]
const upperChannel: Pt[] = [[xMin,1872.99],[501,1852.87]];
const lowerChannel: Pt[] = [[xMin,1851.94],[xMax,1828.06]];
const mainSupport: Pt[] = [[xMin,1825.54],[xMax,1820.4]];
const darkRedTrend: Pt[] = [[xMin,1830.65],[286.5,1815.7]];
const dashedTrend: Pt[] = [[xMin,1831.1],[429,1815.8]];
const blackTrend: Pt[] = [[150.2,1825.65],[359,1821.65]];
const blackRay: Pt[] = [[155.1,1840.5],[203.2,1852.6]];
const whiteWave: Pt[] = [[105.9,1873.4],[227.3,1823.3],[326,1859.75],[401.3,1815.7]];
const redWave: Pt[] = [[102.1,1873.3],[120.9,1855.8],[131.1,1866.15],[150,1825.6],[188.1,1849.9],[226.9,1824]];
const greenWave: Pt[] = [[227.5,1824.3],[235,1847.95],[271,1819.1],[328.8,1858.9]];
const blueWave: Pt[] = [[150,1825.6],[155.1,1840.2],[159,1833.85],[164.2,1842.5],[176.9,1828.5],[188.1,1847.95]];
const circledMarks: [string, number, number, string][] = [
["1",120.9,1854.7,"#E8201A"],["2",131,1867.1,"#E8201A"],["3",150,1824.6,"#E8201A"],["4",188,1850.8,"#E8201A"],["5",226.9,1822.9,"#E8201A"],["A",235,1848.9,"#4C9A4C"],["B",271,1818,"#4C9A4C"],["C",329,1860,"#4C9A4C"],
];
const textMarks: [string, number, number, string, number][] = [
["(A)",155.3,1841.15,"#2A2AE0",12],["(B)",159,1832.75,"#2A2AE0",12],["(C)",164.2,1843.15,"#2A2AE0",12],["(D)",177,1827.3,"#2A2AE0",12],["(E)",189.2,1849.5,"#2A2AE0",12],["(ii)",326,1861,"#F5F0E8",16],["(i)",227,1822.3,"#F5F0E8",13],
];

const FONT = "'Liberation Sans'";
const toPts = (a: Pt[]) => a.map(([x, y]) => ({ x, y }));

function lineSet(points: Pt[], color: string, width: number, dash: number[] = [], yAxisID = "y", extra: any = {}) {
  return { type: "line", data: toPts(points), borderColor: color, borderWidth: width, borderDash: dash, pointRadius: 0, tension: 0, fill: false, yAxisID, ...extra };
}
const levelSet = ([p, a, b, c, w, d]: Level) => lineSet([[a, p], [b, p]], c, w, d);

const panePlugin = {
  id: "panes",
  beforeDraw(chart: any) {
    const { ctx, scales } = chart;
    const { x, y, rsi } = scales;
    ctx.save();
    ctx.fillStyle = "#EEEEEE";
    ctx.fillRect(6, 43, 2455, 1195);
    ctx.fillStyle = "#F5F5F5";
    const by = rsi.getPixelForValue(rsiTicks[2]);
    ctx.fillRect(x.left, by, x.right - x.left, rsi.getPixelForValue(rsiTicks[0]) - by);
    for (const [a, b, t, d, c] of zones) {
      const l = x.getPixelForValue(a), r = x.getPixelForValue(b);
      const top = y.getPixelForValue(t), bot = y.getPixelForValue(d);
      ctx.fillStyle = c;
      ctx.fillRect(l, top, r - l, bot - top);
    }
    ctx.restore();
  },
  beforeDatasetsDraw(chart: any) {
    const { ctx, scales } = chart;
    const { x, macd, rsi } = scales;
    ctx.save();
    ctx.strokeStyle = "rgba(255,255,255,0.85)";
    ctx.lineWidth = 1;
    for (const b of timeTickBars) {
      const px = Math.round(x.getPixelForValue(b)) + 0.5;
      for (const pane of [macd, rsi]) {
        ctx.beginPath();
        ctx.moveTo(px, pane.top);
        ctx.lineTo(px, pane.bottom);
        ctx.stroke();
      }
    }
    ctx.restore();
  },
  afterDatasetsDraw(chart: any) {
    const { ctx, scales } = chart;
    const { x, y } = scales;
    ctx.save();
    ctx.beginPath();
    ctx.rect(x.left, y.top, x.right - x.left, y.bottom - y.top);
    ctx.clip();
    ctx.font = `11px ${FONT}`;
    ctx.textBaseline = "bottom";
    ctx.textAlign = "left";
    for (const [t, p, c] of leftFibLabels) {
      ctx.fillStyle = c;
      ctx.fillText(t, x.getPixelForValue(174), Math.min(y.getPixelForValue(p) - 1, y.bottom - 1));
    }
    for (const [t, p, c] of midFibRows) {
      ctx.fillStyle = c;
      ctx.fillText(t, x.getPixelForValue(361), y.getPixelForValue(p) - 1);
    }
    ctx.textAlign = "right";
    for (const [t, p, c] of extOneRows) {
      ctx.fillStyle = c;
      ctx.fillText(t, x.getPixelForValue(231.1), y.getPixelForValue(p) - 1);
    }
    for (const [t, p, c] of extTwoRows) {
      ctx.fillStyle = c;
      ctx.fillText(t, x.getPixelForValue(274.1), y.getPixelForValue(p) - 1);
    }
    ctx.textAlign = "center";
    ctx.textBaseline = "middle";
    for (const [t, b, p, c, s] of textMarks) {
      ctx.font = `${s}px ${FONT}`;
      ctx.fillStyle = c;
      ctx.fillText(t, x.getPixelForValue(b), y.getPixelForValue(p));
    }
    ctx.font = `11px ${FONT}`;
    for (const [t, b, p, c] of circledMarks) {
      const px = x.getPixelForValue(b), py = y.getPixelForValue(p);
      ctx.beginPath();
      ctx.arc(px, py, 7, 0, Math.PI * 2);
      ctx.strokeStyle = c;
      ctx.lineWidth = 1.1;
      ctx.stroke();
      ctx.fillStyle = c;
      ctx.fillText(t, px, py + 0.5);
    }
    ctx.restore();
  },
  afterDraw(chart: any) {
    const { ctx, scales } = chart;
    const { x, y, macd, rsi } = scales;
    ctx.save();
    ctx.strokeStyle = "#555555";
    ctx.lineWidth = 1.2;
    ctx.strokeRect(6, 43, 2455, 1195);
    for (const py of [y.bottom, macd.bottom, rsi.bottom]) {
      ctx.beginPath();
      ctx.moveTo(6, py);
      ctx.lineTo(2461, py);
      ctx.stroke();
    }
    ctx.beginPath();
    ctx.moveTo(x.right, 43);
    ctx.lineTo(x.right, 1238);
    ctx.stroke();

    ctx.font = `11px ${FONT}`;
    ctx.textBaseline = "middle";
    ctx.textAlign = "left";
    const py = y.getPixelForValue(candleRows[candleRows.length - 1][3]);
    ctx.fillStyle = "#CC0000";
    ctx.fillRect(x.right, py - 8.5, 63, 17);
    ctx.fillRect(2420, py + 10, 40, 16);
    ctx.fillStyle = "#FFFFFF";
    ctx.fillText("1849.653", 2406.5, py + 0.5);
    ctx.fillText("07:28", 2424, py + 18.5);

    ctx.fillStyle = "#EEEEEE";
    ctx.strokeStyle = "#D5D8E0";
    ctx.beginPath();
    ctx.roundRect(2415.5, 50.5, 27, 17, 3);
    ctx.fill();
    ctx.stroke();
    ctx.fillStyle = "#555555";
    ctx.textAlign = "center";
    ctx.fillText("USD", 2429, 59.5);
    ctx.restore();
  },
};

export default function App() {
  const ref = useRef<HTMLCanvasElement | null>(null);
  useEffect(() => {
    if (!ref.current) return;
    const wicks = candleRows.map(([, h, l], i) => ({ x: i, y: [l, h] }));
    const bodies = candleRows.map(([o, , , c], i) => ({ x: i, y: [o, c] }));
    const bodyColor = candleRows.map(([o, , , c]) => (c >= o ? "#2A6612" : "#C40000"));
    const painter: any[] = [
      ...leftFibLevels.map(levelSet),
      ...midFibRows.map(([, p, c, w]) => lineSet([[99, p], [360, p]], c, w)),
      ...fullLevels.filter((l) => l[0] !== 1849.653 && l[0] !== 1875.35).map(levelSet),
      ...extOneRows.map(([, p, c, e]) => lineSet([[232, p], [e, p]], c, 1.2)),
      lineSet([[232, olivePrice], [339, olivePrice]], "#8BB520", 1.2),
      ...extTwoRows.map(([, p, c]) => lineSet([[275, p], [331, p]], c, 1.2)),
      lineSet(emaLong, "#FF00FF", 6),
      lineSet(emaSlow, "#A020F0", 4),
      lineSet(emaMid, "#1414D8", 2.6),
      { type: "bar", data: wicks, backgroundColor: "#777777", barThickness: 1, grouped: false },
      { type: "bar", data: bodies, backgroundColor: bodyColor, barThickness: 3.4, grouped: false, minBarLength: 1 },
      lineSet(emaFast, "#3F9BEA", 1.3),
      lineSet(upperChannel, "#6EA4E4", 2.2),
      lineSet(lowerChannel, "#6EA4E4", 2.2),
      lineSet(mainSupport, "#1B5A98", 4.5),
      lineSet(darkRedTrend, "#8E0E0E", 2.4),
      lineSet(dashedTrend, "#7B4FD0", 1.2, [7, 6]),
      lineSet(blackTrend, "#000000", 2),
      lineSet(blackRay, "#333333", 1),
      lineSet(blueWave, "#2A2AE0", 1.1),
      lineSet(whiteWave, "rgba(255,255,255,0.88)", 2),
      lineSet(redWave, "#F01A10", 2),
      lineSet(greenWave, "#458C3C", 3.2),
      ...fullLevels.filter((l) => l[0] === 1849.653 || l[0] === 1875.35).map(levelSet),
      lineSet([[macdHistStart, 0], [macdHistEnd, 0]], "rgba(205,130,170,0.55)", 6, [1.5, 3], "macd"),
      lineSet([[xMin, 0], [xMax, 0]], "rgba(205,130,170,0.7)", 1.5, [1.5, 4], "macd"),
      { type: "bar", yAxisID: "macd", data: macdHumpBars.map((x, i) => ({ x, y: macdHumpValues[i] })), backgroundColor: "rgba(205,130,170,0.6)", barThickness: 1.5, grouped: false },
      lineSet(macdLine, "#2A6CB0", 1.6, [], "macd"),
      lineSet(macdSignal, "#D80000", 3, [2, 2.5], "macd"),
      ...rsiBands.map((v, i) => lineSet([[xMin, v], [xMax, v]], i === 0 ? "#E84040" : "#D02828", 1, [5, 4], "rsi")),
      lineSet(rsiValues.map((v, i) => [i, v] as Pt), "#666666", 1.1, [], "rsi", {
        segment: { borderColor: (c: any) => (c.p0.parsed.y > 80 || c.p0.parsed.y < 20 ? "#000000" : undefined) },
      }),
    ];
    const baseY = (extra: any) => ({
      axis: "y", type: "linear", position: "right", stack: "panes", offset: false,
      border: { display: false },
      afterFit: (s: any) => { s.width = 64; },
      ticks: { color: "#555555", font: { family: FONT, size: 11 }, padding: 5, autoSkip: false, ...extra.tickOpts },
      ...extra.rest,
    });
    const chart = new Chart(ref.current, {
      type: "line",
      data: { datasets: painter.reverse() },
      plugins: [panePlugin],
      options: {
        responsive: false,
        animation: false,
        devicePixelRatio: 1,
        events: [],
        layout: { padding: { left: 6, top: 43, right: 7, bottom: 37 } },
        plugins: { legend: { display: false }, tooltip: { enabled: false }, title: { display: false } },
        scales: {
          x: {
            type: "linear", min: xMin, max: xMax, offset: false,
            border: { display: false },
            grid: { color: "rgba(255,255,255,0.18)", tickColor: "#555555", tickLength: 5, offset: false },
            afterBuildTicks: (s: any) => { s.ticks = timeTickBars.map((value) => ({ value })); },
            afterFit: (s: any) => { s.height = 26; },
            ticks: {
              color: "#555555", font: { family: FONT, size: 11.5 }, padding: 3, autoSkip: false, maxRotation: 0,
              callback: (v: any) => timeTickLabels[timeTickBars.indexOf(Number(v))] ?? "",
            },
          },
          y: baseY({
            tickOpts: { callback: (v: any) => Number(v).toFixed(3) },
            rest: {
              min: yMin, max: yMax, stackWeight: 1009, weight: 1,
              grid: { color: "rgba(255,255,255,0.12)", tickColor: "#555555", tickLength: 5 },
              afterBuildTicks: (s: any) => { s.ticks = priceTicks.map((value) => ({ value })); },
            },
          }),
          macd: baseY({
            tickOpts: { callback: (v: any) => Number(v).toFixed(3) },
            rest: {
              min: -3.2, max: 3, stackWeight: 31, weight: 2,
              grid: { color: "#FFFFFF", tickColor: "#555555", tickLength: 5 },
              afterBuildTicks: (s: any) => { s.ticks = macdTicks.map((value) => ({ value })); },
            },
          }),
          rsi: baseY({
            tickOpts: { callback: (v: any) => Number(v).toFixed(2) },
            rest: {
              min: 3.99, max: 97.46, stackWeight: 129, weight: 3,
              grid: { color: "#FFFFFF", tickColor: "#555555", tickLength: 5 },
              afterBuildTicks: (s: any) => { s.ticks = rsiTicks.map((value) => ({ value })); },
            },
          }),
        },
      },
    } as any);
    return () => chart.destroy();
  }, []);

  const teal = { color: "#26A69A" };
  const dark = { color: "#333333" };
  return (
    <div style={{ position: "fixed", left: 0, top: 0, width: 2468, height: 1275, background: "#FFFFFF", overflow: "hidden", fontFamily: FONT }}>
      <div style={{ position: "absolute", left: 6, top: 5, fontSize: 12.5, lineHeight: "16px", color: "#444444", whiteSpace: "nowrap" }}>
        <b style={dark}>fra978</b> published on TradingView.com, December 15, 2020 15:22:34 CET
      </div>
      <div style={{ position: "absolute", left: 6, top: 22, fontSize: 12.5, lineHeight: "16px", color: "#444444", whiteSpace: "nowrap" }}>
        <b style={dark}>OANDA:XAUUSD, 30</b> 1849.653 <span style={teal}>▲</span> +22.594 (+1.24%) <b style={dark}>O:</b><span style={teal}>1852.880</span> <b style={dark}>H:</b><span style={teal}>1853.056</span> <b style={dark}>L:</b><span style={teal}>1847.838</span> <b style={dark}>C:</b><span style={teal}>1849.653</span>
      </div>
      <canvas ref={ref} width={2468} height={1275} style={{ position: "absolute", left: 0, top: 0, display: "block" }} />
      <div style={{ position: "absolute", left: 6, top: 1248, display: "flex", alignItems: "center", fontSize: 14, color: "#333333" }}>
        <svg width="27" height="16" viewBox="0 0 27 16" style={{ marginRight: 2 }}>
          <path d="M2 14 C-1 11 1 6 5 7 C6 3 9 2 11 2 C14 2 16 4 17 6 C20 5 25 7 25 11 C25 13 24 15 22 15 L4 15 Z" fill="#2196F3" />
          <path d="M4 12 L9 7 L13 11 L18 7 L23 11" fill="none" stroke="#FFFFFF" strokeWidth="1.6" />
        </svg>
        <span>TradingView</span>
      </div>
    </div>
  );
}
